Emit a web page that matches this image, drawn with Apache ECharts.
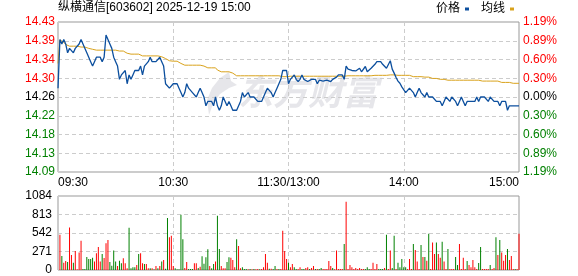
<!DOCTYPE html>
<html><head><meta charset="utf-8">
<script src="https://cdn.jsdelivr.net/npm/echarts@6/dist/echarts.min.js"></script>
<style>html,body{margin:0;padding:0;background:#fff}#c{width:578px;height:276px}</style>
</head><body><div id="c"></div>
<script>
const titleText = '纵横通信[603602] 2025-12-19 15:00';
const seriesNames = ['价格', '均线'];
const preClose = 14.26;
const pctMax = 1.19;
const priceTickLabels = ['14.09','14.13','14.18','14.22','14.26','14.30','14.34','14.39','14.43'];
const pctTickLabels = ['1.19%','0.89%','0.60%','0.30%','0.00%','0.30%','0.60%','0.89%','1.19%'];
const timeTickLabels = ['09:30','10:30','11:30/13:00','14:00','15:00'];
const volumeTickLabels = ['0','271','542','813','1084'];
const volumeMax = 1084;
const volumeStep = 271;

const price = [
14.28,14.39,14.38,14.39,14.38,14.36,14.37,14.37,14.36,14.37,
14.37,14.38,14.39,14.38,14.38,14.36,14.35,14.34,14.33,14.34,
14.35,14.35,14.35,14.34,14.35,14.40,14.39,14.38,14.37,14.35,
14.34,14.33,14.30,14.31,14.31,14.32,14.29,14.31,14.30,14.31,
14.32,14.32,14.32,14.33,14.31,14.33,14.33,14.34,14.35,14.34,
14.34,14.34,14.34,14.35,14.34,14.33,14.29,14.29,14.28,14.28,
14.29,
14.29,14.29,14.28,14.27,14.26,14.27,14.29,14.28,14.28,14.27,
14.27,14.26,14.27,14.28,14.27,14.26,14.24,14.25,14.25,14.25,
14.24,14.26,14.24,14.23,14.24,14.26,14.25,14.24,14.25,14.24,
14.23,14.23,14.23,14.23,14.25,14.27,14.26,14.26,14.27,14.26,
14.26,14.26,14.26,14.25,14.25,14.25,14.25,14.27,14.28,14.28,
14.27,14.26,14.27,14.28,14.28,14.30,14.32,14.32,14.32,14.29,
14.30,14.305,14.31,14.30,14.295,14.30,14.31,14.30,14.30,14.295,
14.298,14.30,14.298,14.30,14.29,14.298,14.30,14.296,14.30,14.298,
14.30,14.295,14.30,14.298,14.305,14.31,14.31,14.31,14.30,14.33,
14.323,14.325,14.32,14.323,14.319,14.321,14.325,14.317,14.321,14.329,
14.317,14.321,14.325,14.329,14.334,14.34,14.338,14.34,14.334,14.331,
14.325,14.325,14.342,14.323,14.314,14.304,14.296,14.291,14.283,14.28,
14.27,14.27,14.28,14.28,14.27,14.26,14.27,14.28,14.27,14.27,
14.26,14.27,14.26,14.26,14.26,14.26,14.25,14.25,14.25,14.24,
14.25,14.26,14.26,14.25,14.26,14.26,14.25,14.24,14.25,14.26,
14.25,14.24,14.25,14.25,14.25,14.25,14.25,14.26,14.25,14.26,
14.26,14.26,14.26,14.25,14.26,14.26,14.25,14.25,14.25,14.24,
14.25,14.25,14.25,14.23,14.24,14.24,14.24,14.24,14.24,14.24
];

const avgPrice = [
14.336,14.389,14.388,14.384,14.379,14.376,14.375,14.375,14.375,14.375,
14.375,14.373,14.373,14.373,14.373,14.372,14.370,14.369,14.368,14.367,
14.366,14.366,14.366,14.366,14.366,14.366,14.366,14.366,14.366,14.366,
14.366,14.366,14.364,14.364,14.364,14.364,14.359,14.359,14.357,14.357,
14.357,14.357,14.357,14.354,14.353,14.353,14.353,14.353,14.353,14.353,
14.353,14.353,14.353,14.353,14.351,14.349,14.347,14.344,14.342,14.341,
14.341,14.341,14.341,14.338,14.336,14.336,14.332,14.332,14.332,14.332,
14.332,14.332,14.332,14.332,14.332,14.330,14.330,14.330,14.326,14.326,
14.326,14.326,14.326,14.321,14.321,14.317,14.317,14.317,14.317,14.317,
14.314,14.314,14.311,14.308,14.308,14.308,14.308,14.308,14.308,14.308,
14.308,14.308,14.308,14.308,14.308,14.308,14.308,14.308,14.308,14.308,
14.308,14.308,14.308,14.308,14.308,14.308,14.306,14.306,14.306,14.306,
14.306,14.307,14.307,14.307,14.307,14.307,14.307,14.307,14.307,14.307,
14.307,14.307,14.307,14.307,14.307,14.307,14.307,14.307,14.307,14.307,
14.307,14.307,14.307,14.307,14.307,14.307,14.307,14.307,14.307,14.307,
14.307,14.308,14.308,14.308,14.308,14.308,14.308,14.308,14.308,14.308,
14.308,14.308,14.308,14.308,14.309,14.309,14.309,14.309,14.309,14.309,
14.309,14.309,14.309,14.310,14.310,14.310,14.310,14.309,14.309,14.309,
14.309,14.309,14.309,14.309,14.306,14.306,14.306,14.306,14.306,14.306,
14.305,14.305,14.305,14.305,14.305,14.302,14.302,14.302,14.302,14.300,
14.300,14.300,14.300,14.298,14.298,14.298,14.298,14.298,14.298,14.298,
14.298,14.298,14.298,14.298,14.298,14.298,14.298,14.298,14.298,14.298,
14.296,14.296,14.296,14.296,14.296,14.296,14.296,14.296,14.296,14.296,
14.293,14.293,14.293,14.293,14.293,14.293,14.291,14.291,14.291,14.291,
14.291
];

const volume = [
0,515,206,108,132,118,623,220,108,280,
10,255,427,15,15,191,162,162,181,123,
245,338,123,235,177,392,441,118,64,284,
123,59,137,98,172,98,25,618,25,39,
39,74,235,245,98,88,88,25,25,25,
10,59,25,59,123,147,20,760,480,500,
59,25,10,10,809,451,29,118,15,15,
15,98,98,29,49,200,93,186,304,59,
25,88,123,795,309,59,25,25,118,186,
181,147,39,451,353,25,39,15,15,10,
15,10,15,10,15,10,15,39,235,108,
20,20,15,59,15,15,15,574,280,162,
107,
39,88,39,15,15,39,15,15,29,39,
15,29,59,15,15,15,29,15,15,15,
132,59,29,10,284,15,15,15,382,1000,
15,74,39,15,29,15,29,15,15,15,
39,15,15,108,15,88,15,15,15,29,
515,15,284,29,500,15,108,39,162,39,
39,15,162,15,382,294,123,15,368,191,
191,137,530,15,402,235,402,235,181,412,
123,15,309,15,15,15,191,74,382,15,
181,15,132,74,39,147,39,15,103,338,
15,15,15,15,74,15,29,480,220,441,
255,137,220,309,147,206,15,15,15,530
];

// 1 = up (red), 0 = down (green)
const volumeUp = [
1,1,0,1,1,0,1,1,0,1,
1,1,1,0,0,0,0,0,0,1,
1,1,1,0,1,1,1,0,0,0,
0,1,0,0,1,1,1,0,0,0,
0,1,0,1,1,0,1,1,0,1,
0,1,0,1,0,1,0,0,1,1,
1,0,0,0,0,0,1,1,0,0,
0,1,1,0,1,0,0,0,0,1,
0,0,1,0,0,1,1,1,0,0,
1,1,1,0,1,1,0,0,0,1,
0,1,0,1,1,0,1,1,1,1,
0,1,0,0,1,0,1,1,1,1,
0,
1,1,0,0,1,1,0,0,1,1,
0,1,1,0,1,0,0,1,1,1,
1,1,0,1,1,1,1,1,0,1,
1,1,1,1,1,1,1,1,1,0,
0,0,1,1,1,1,0,0,0,1,
0,1,1,0,0,1,0,0,0,0,
0,1,1,1,0,1,1,1,0,1,
0,1,0,1,1,1,0,1,1,0,
1,1,0,1,1,1,0,0,1,1,
1,1,0,1,1,1,1,1,0,0,
1,1,1,1,0,1,1,0,1,0,
1,1,1,0,1,1,1,0,1,1
];

function pad(n) { return (n < 10 ? '0' : '') + n; }
const times = [];
for (let m = 9 * 60 + 30; m <= 11 * 60 + 30; m++) times.push(pad(Math.floor(m / 60)) + ':' + pad(m % 60));
for (let m = 13 * 60 + 1; m <= 15 * 60; m++) times.push(pad(Math.floor(m / 60)) + ':' + pad(m % 60));

const RED = '#ff0000', GREEN = '#008000', DARK = '#000000';
const FONT = "Arial, 'Liberation Sans', 'Noto Sans CJK SC', sans-serif";
const delta = preClose * pctMax / 100;
const pMin = preClose - delta, pMax = preClose + delta, pInt = delta / 4;

function priceColor(value) {
  if (value > preClose + pInt / 2) return RED;
  if (value < preClose - pInt / 2) return GREEN;
  return DARK;
}
const tickStep = 60;
const gridLine = { show: true, lineStyle: { color: '#cccccc', type: [4, 3], width: 1 } };

const chart = echarts.init(document.getElementById('c'), null, { renderer: 'canvas' });
chart.setOption({
  animation: false,
  backgroundColor: '#ffffff',
  textStyle: { fontFamily: FONT },
  title: {
    text: titleText, left: 58, top: 2, padding: 0,
    textStyle: { fontSize: 12, fontWeight: 'normal', color: '#000', fontFamily: FONT }
  },
  legend: {
    data: seriesNames, right: 64, top: 3, align: 'right', padding: 0,
    itemWidth: 4, itemHeight: 3, itemGap: 12, icon: 'rect',
    textStyle: { fontSize: 12, color: '#000', fontFamily: FONT }
  },
  graphic: [
    {
      type: 'polygon', z: 0, silent: true,
      shape: { points: [[229,72],[220,78],[212,88],[207,100],[209,115],[213,104],[220,94],[229,88],[237,85],[231,81]] },
      style: { fill: '#e6e6ea' }
    },
    {
      type: 'text', z: 0, silent: true, left: 238, top: 74,
      style: { text: '东方财富', fill: '#e6e6ea', font: "italic bold 35px 'Noto Sans CJK SC', sans-serif" }
    }
  ],
  grid: [
    { left: 58, top: 22, width: 461, height: 150, show: true, borderColor: '#999', borderWidth: 1, backgroundColor: 'transparent', containLabel: false },
    { left: 58, top: 196, width: 461, height: 74, show: true, borderColor: '#999', borderWidth: 1, backgroundColor: 'transparent', containLabel: false }
  ],
  xAxis: [
    {
      type: 'category', gridIndex: 0, data: times, boundaryGap: false,
      axisLine: { show: false }, axisTick: { show: false },
      axisLabel: {
        show: true, margin: 5, fontSize: 12, color: '#000', fontFamily: FONT,
        interval: (i) => i % tickStep === 0,
        formatter: (v, i) => timeTickLabels[Math.round(i / tickStep)] || '',
        alignMinLabel: 'left', alignMaxLabel: 'right', showMinLabel: true, showMaxLabel: true
      },
      splitLine: Object.assign({}, gridLine, { interval: (i) => i % tickStep === 0 })
    },
    {
      type: 'category', gridIndex: 1, data: times, boundaryGap: false,
      axisLine: { show: false }, axisTick: { show: false }, axisLabel: { show: false },
      splitLine: Object.assign({}, gridLine, { interval: (i) => i % tickStep === 0 })
    }
  ],
  yAxis: [
    {
      type: 'value', gridIndex: 0, position: 'left', min: pMin, max: pMax, interval: pInt,
      axisLine: { show: false }, axisTick: { show: false },
      axisLabel: { margin: 3, fontSize: 12, fontFamily: FONT, formatter: (v, i) => priceTickLabels[i], color: (v) => priceColor(v) },
      splitLine: gridLine
    },
    {
      type: 'value', gridIndex: 0, position: 'right', min: pMin, max: pMax, interval: pInt,
      axisLine: { show: false }, axisTick: { show: false },
      axisLabel: { margin: 4, fontSize: 12, fontFamily: FONT, formatter: (v, i) => pctTickLabels[i], color: (v) => priceColor(v) },
      splitLine: { show: false }
    },
    {
      type: 'value', gridIndex: 1, min: 0, max: volumeMax, interval: volumeStep,
      axisLine: { show: false }, axisTick: { show: false },
      axisLabel: { margin: 6, fontSize: 12, color: '#000', fontFamily: FONT, formatter: (v, i) => volumeTickLabels[i] },
      splitLine: gridLine
    }
  ],
  series: [
    {
      name: seriesNames[0], type: 'line', xAxisIndex: 0, yAxisIndex: 0, data: price,
      showSymbol: false, symbol: 'none', z: 4,
      lineStyle: { color: '#0c4f9e', width: 1.3 }, itemStyle: { color: '#0c4f9e' }
    },
    {
      name: seriesNames[1], type: 'line', xAxisIndex: 0, yAxisIndex: 0, data: avgPrice,
      showSymbol: false, symbol: 'none', z: 3,
      lineStyle: { color: '#d9a21b', width: 1 }, itemStyle: { color: '#d9a21b' }
    },
    {
      type: 'bar', xAxisIndex: 1, yAxisIndex: 2, data: volume, barWidth: 1,
      itemStyle: { color: (p) => volumeUp[p.dataIndex] ? RED : GREEN }
    }
  ]
});
</script>
</body></html>
